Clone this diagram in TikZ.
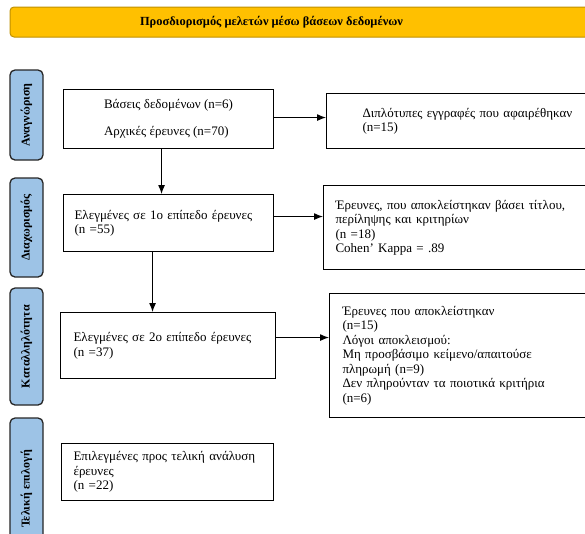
\documentclass[tikz,border=0pt]{standalone}
\usepackage{fontspec}
\setmainfont{Liberation Serif}
\usetikzlibrary{arrows.meta}
\definecolor{stageblue}{HTML}{9DC3E6}
\definecolor{titlegold}{HTML}{FFC000}
\definecolor{titleedge}{HTML}{BF9000}
\begin{document}
\begin{tikzpicture}[x=1pt,y=-1pt]
  \tikzstyle{titlebar}=[draw=titleedge,fill=titlegold,line width=1pt,rounded corners=4pt];
  \tikzstyle{heading}=[font=\fontsize{12.4}{14}\selectfont\bfseries];
  \tikzstyle{stage}=[draw=black!85,fill=stageblue,line width=1.3pt,rounded corners=5pt,rotate=90,minimum height=33pt,inner sep=0pt,font=\fontsize{12}{13}\selectfont\bfseries];
  \tikzstyle{study}=[draw,fill=white,line width=1.1pt,anchor=north west,align=left,inner ysep=0pt,font=\fontsize{13}{14.5}\selectfont];
  \tikzstyle{bdd}=[->,>={Latex[length=9pt,width=7pt]},line width=1pt];

  \useasboundingbox (0,0) rectangle (585,533);
  \clip (0,0) rectangle (585,533);

  \draw[titlebar] (10,7) rectangle (640,37);
  \node[heading] (head) at (271.5,22) {Προσδιορισμός μελετών μέσω βάσεων δεδομένων};

  \node[stage,minimum width=90pt] (idf) at (26.5,115) {Αναγνώριση};
  \node[stage,minimum width=99pt] (scr) at (26.5,227.5) {Διαχωρισμός};
  \node[stage,minimum width=117pt] (elig) at (26.5,346.5) {Καταλληλότητα};
  \node[stage,minimum width=142pt] (incl) at (26.5,489) {Τελική επιλογή};

  \node[study,minimum width=210pt,minimum height=59pt] (db) at (63,89)
    {Βάσεις δεδομένων (n=6)\\[12.5pt]Αρχικές έρευνες (n=70)};
  \node[study,text width=230pt,inner xsep=36pt,minimum height=55pt] (dup) at (326,93)
    {Διπλότυπες εγγραφές που αφαιρέθηκαν\\(n=15)};
  \node[study,text width=188pt,inner xsep=11pt,minimum height=57pt] (screen1) at (63,194)
    {Ελεγμένες σε 1ο επίπεδο έρευνες\\(n =55)};
  \node[study,text width=280pt,inner xsep=12pt,minimum height=84pt] (excl1) at (323,185)
    {Έρευνες, που αποκλείστηκαν βάσει τίτλου,\\περίληψης και κριτηρίων\\(n =18)\\Cohen’ Kappa = .89};
  \node[study,text width=189pt,inner xsep=13pt,minimum height=66pt] (screen2) at (60,312)
    {Ελεγμένες σε 2ο επίπεδο έρευνες\\(n =37)};
  \node[study,text width=270pt,inner xsep=13pt,minimum height=124pt] (excl2) at (329,293)
    {Έρευνες που αποκλείστηκαν\\(n=15)\\Λόγοι αποκλεισμού:\\Μη προσβάσιμο κείμενο/απαιτούσε\\πληρωμή (n=9)\\Δεν πληρούνταν τα ποιοτικά κριτήρια\\(n=6)};
  \node[study,text width=188pt,inner xsep=12pt,minimum height=57pt] (final) at (61,443)
    {Επιλεγμένες προς τελική ανάλυση\\έρευνες\\(n =22)};

  % db => dup, db => screen1
  \coordinate (dbR) at ([yshift=1.5pt]db.east);
  \coordinate (dbB) at ([xshift=-7pt]db.south);
  \draw[bdd] (dbR) -- (dbR -| dup.west);
  \draw[bdd] (dbB) -- (dbB |- screen1.north);

  % screen1 => excl1, screen1 => screen2
  \coordinate (s1R) at ([yshift=6.5pt]screen1.east);
  \coordinate (s1B) at ([xshift=-16pt]screen1.south);
  \draw[bdd] (s1R) -- (s1R -| excl1.west);
  \draw[bdd] (s1B) -- (s1B |- screen2.north);

  % screen2 => excl2
  \coordinate (s2R) at ([yshift=8pt]screen2.east);
  \draw[bdd] (s2R) -- (s2R -| excl2.west);

\end{tikzpicture}
\end{document}
